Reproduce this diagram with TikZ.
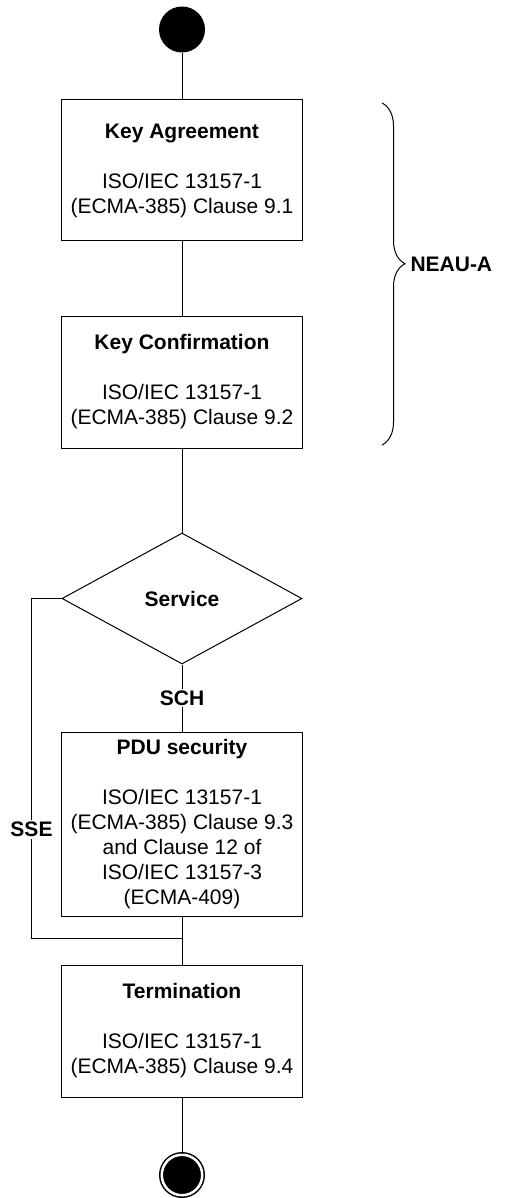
\documentclass[tikz,border=0pt]{standalone}
\usepackage{fontspec}
\setmainfont{Liberation Sans}
\usetikzlibrary{shapes.geometric,%
                decorations.pathreplacing}

\begin{document}
\begin{tikzpicture}
  [x=1pt,y=-1pt,line width=1pt,
   every node/.style={font=\fontsize{21pt}{25pt}\selectfont},
   box/.style={draw,rectangle,minimum width=241pt,align=center,inner sep=0pt},
   choice/.style={draw,diamond,minimum width=240pt,minimum height=131pt,inner sep=0pt,font=\fontsize{21pt}{25pt}\selectfont\bfseries},
   lbl/.style={fill=white,inner sep=2pt,font=\fontsize{21pt}{25pt}\selectfont\bfseries}]
  \useasboundingbox (0,0) rectangle (505,1198);
  \node[circle,fill,minimum size=46pt,inner sep=0pt] (start) at (182,29.5) {};
  \node[box,minimum height=141pt] (ka) at (182,170.5)
    {\textbf{Key Agreement}\\[25pt]ISO/IEC 13157-1\\(ECMA-385) Clause 9.1};
  \node[box,minimum height=132pt] (kc) at (182,382)
    {\textbf{Key Confirmation}\\[25pt]ISO/IEC 13157-1\\(ECMA-385) Clause 9.2};
  \node[choice] (svc) at (182,598.5) {Service};
  \node[box,minimum height=184pt] (pdu) at (182,824)
    {\textbf{PDU security}\\[25pt]ISO/IEC 13157-1\\(ECMA-385) Clause 9.3\\and Clause 12 of\\ISO/IEC 13157-3\\(ECMA-409)};
  \node[box,minimum height=132pt] (term) at (182,1031)
    {\textbf{Termination}\\[25pt]ISO/IEC 13157-1\\(ECMA-385) Clause 9.4};
  \node[circle,draw,fill,double=white,double distance=2.5pt,line width=1.5pt,minimum size=40.5pt,inner sep=0pt] (stop) at (182,1175) {};
  \coordinate (merge) at (182,938);
  \node[lbl,anchor=west,inner sep=0pt] (neau) at (410,264) {NEAU-A};
  \foreach \from/\to in {start/ka,ka/kc,kc/svc,pdu/term,term/stop}
    \draw (\from) -- (\to);
  \draw (svc) -- node[lbl] (sch) {SCH} (pdu);
  \draw (svc.west) -- ++(-30,0) |- node[lbl,pos=0.34] (sse) {SSE} (merge);
  \draw[decorate,decoration={brace,amplitude=23pt,aspect=0.47}] (382,103) -- (382,445);
\end{tikzpicture}
\end{document}
